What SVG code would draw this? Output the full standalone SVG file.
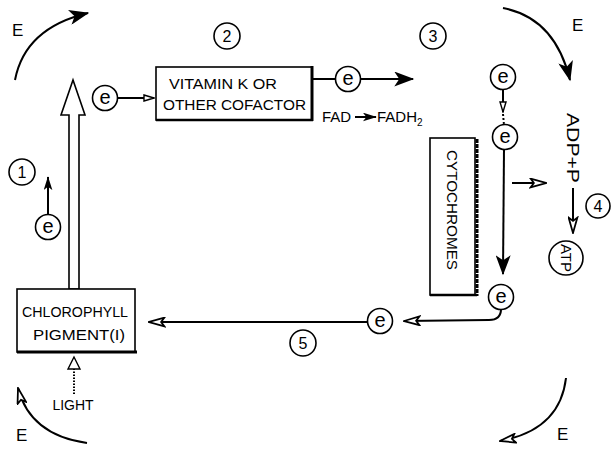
<svg xmlns="http://www.w3.org/2000/svg" width="611" height="450" viewBox="0 0 611 450">
<style>
.t{font-family:"Liberation Sans",Arial,sans-serif;fill:#000}
.box{fill:#fff;stroke:#000;stroke-width:1.6}
.cir{fill:#fff;stroke:#000;stroke-width:1.6}
.ln{fill:none;stroke:#000;stroke-width:2}
.e{font-family:"Liberation Sans",Arial,sans-serif;font-size:20px;text-anchor:middle}
.n{font-family:"Liberation Sans",Arial,sans-serif;font-size:16px;text-anchor:middle}
.E{font-family:"Liberation Sans",Arial,sans-serif;font-size:17px}
</style>
<defs>
<marker id="fh" viewBox="0 0 16 10" refX="15" refY="5" markerWidth="14" markerHeight="9" markerUnits="userSpaceOnUse" orient="auto">
<path d="M0,0 L16,5 L0,10 L4,5 z" fill="#000"/>
</marker>
<marker id="fhb" viewBox="0 0 16 12" refX="15" refY="6" markerWidth="21" markerHeight="15" markerUnits="userSpaceOnUse" orient="auto">
<path d="M0,0 L16,6 L0,12 L4,6 z" fill="#000"/>
</marker>
<marker id="hh" viewBox="0 0 16 10" refX="15" refY="5" markerWidth="18" markerHeight="11" markerUnits="userSpaceOnUse" orient="auto">
<path d="M1,1 L15,5 L1,9 L4,5 z" fill="#fff" stroke="#000" stroke-width="1.6"/>
</marker>
<marker id="hs" viewBox="0 0 12 8" refX="11" refY="4" markerWidth="12" markerHeight="8" markerUnits="userSpaceOnUse" orient="auto">
<path d="M1,1 L11,4 L1,7 z" fill="#fff" stroke="#000" stroke-width="1.4"/>
</marker>
</defs>

<g id="connectors">
<!-- energy arcs -->
<path class="ln" d="M15,80 Q25,28 88,13" stroke-width="3" marker-end="url(#fhb)"/>
<path class="ln" d="M503,8 Q555,18 570,80" stroke-width="3" marker-end="url(#fhb)"/>
<path class="ln" d="M566,378 Q560,430 500,441" stroke-width="2.5" marker-end="url(#hh)"/>
<path class="ln" d="M87,443 Q30,435 18,388" stroke-width="2.5" marker-end="url(#hh)"/>
<!-- hollow double arrow from chlorophyll upward -->
<polygon points="69,289 69,115 61,115 73,80 85,115 79,115 79,289" fill="#fff" stroke="#000" stroke-width="1.6"/>
<!-- step 1 -->
<line class="ln" x1="48" y1="214" x2="48" y2="177" marker-end="url(#fh)"/>
<!-- e to vitamin box -->
<line class="ln" x1="117" y1="98" x2="154" y2="98" marker-end="url(#hs)"/>
<!-- vitamin box to e -->
<line class="ln" x1="313" y1="79" x2="336" y2="79" stroke-width="2.5"/>
<line class="ln" x1="360" y1="79" x2="413" y2="79" stroke-width="2.5" marker-end="url(#fhb)"/>
<!-- FAD -> FADH2 -->
<line class="ln" x1="355" y1="117" x2="376" y2="117" marker-end="url(#fh)"/>
<!-- e to e -->
<line class="ln" x1="503" y1="89" x2="503" y2="112" stroke-width="1.4" marker-end="url(#hs)"/>
<line class="ln" x1="503" y1="114" x2="504" y2="125" stroke-width="1.4" stroke-dasharray="2,2"/>
<!-- e down to e -->
<line class="ln" x1="504" y1="149" x2="503" y2="274" marker-end="url(#fhb)"/>
<!-- bottom e curving to left e -->
<path class="ln" d="M501,309 Q501,320 489,320 L404,321" marker-end="url(#hh)"/>
<!-- e to chlorophyll -->
<line class="ln" x1="368" y1="322" x2="149" y2="322" marker-end="url(#hh)"/>
<!-- cytochromes to ADP -->
<line class="ln" x1="512" y1="183" x2="546" y2="183" marker-end="url(#hh)"/>
<!-- ADP+P to ATP -->
<line class="ln" x1="573" y1="188" x2="573" y2="233" marker-end="url(#hh)"/>
<!-- light -->
<line class="ln" x1="74" y1="394" x2="74" y2="366" stroke-width="5" stroke-dasharray="1.5,1.5"/>
<polygon points="68,369 74,357 80,369" fill="#fff" stroke="#000" stroke-width="1.4"/>
</g>

<g id="chlorophyll">
<rect class="box" x="17" y="289" width="118" height="63"/>
<line x1="17" y1="352" x2="137" y2="352" stroke="#000" stroke-width="3"/>
<text class="t" x="75" y="317" font-size="14" text-anchor="middle" textLength="106" lengthAdjust="spacingAndGlyphs">CHLOROPHYLL</text>
<text class="t" x="79" y="340" font-size="15" text-anchor="middle" textLength="92" lengthAdjust="spacingAndGlyphs">PIGMENT(I)</text>
</g>

<g id="vitamin">
<rect class="box" x="156" y="67" width="156" height="53"/>
<line x1="312" y1="66" x2="312" y2="121" stroke="#000" stroke-width="3"/>
<line x1="156" y1="120" x2="313" y2="120" stroke="#000" stroke-width="2.5"/>
<text class="t" x="169" y="89" font-size="14" textLength="108" lengthAdjust="spacingAndGlyphs">VITAMIN K OR</text>
<text class="t" x="163" y="110" font-size="14" textLength="143" lengthAdjust="spacingAndGlyphs">OTHER COFACTOR</text>
</g>

<g id="cytochromes">
<rect class="box" x="430" y="138" width="45" height="157"/>
<line x1="477" y1="139" x2="477" y2="296" stroke="#000" stroke-width="3" stroke-dasharray="4,1"/>
<line x1="430" y1="295" x2="477" y2="295" stroke="#000" stroke-width="2.5"/>
<text class="t" x="452" y="210" font-size="15" text-anchor="middle" dominant-baseline="central" textLength="120" lengthAdjust="spacingAndGlyphs" transform="rotate(90 452 210)">CYTOCHROMES</text>
</g>

<g id="e1"><circle class="cir" cx="105" cy="98" r="12.5"/><text class="e" x="105" y="104">e</text></g>
<g id="e2"><circle class="cir" cx="348" cy="79" r="12.5"/><text class="e" x="348" y="85">e</text></g>
<g id="e3"><circle class="cir" cx="48" cy="227" r="12.5"/><text class="e" x="48" y="233">e</text></g>
<g id="e4"><circle class="cir" cx="503" cy="77" r="12.5"/><text class="e" x="503" y="83">e</text></g>
<g id="e5"><circle class="cir" cx="505" cy="137" r="12.5"/><text class="e" x="505" y="143">e</text></g>
<g id="e6"><circle class="cir" cx="501" cy="297" r="12.5"/><text class="e" x="501" y="303">e</text></g>
<g id="e7"><circle class="cir" cx="380" cy="321" r="12.5"/><text class="e" x="380" y="327">e</text></g>

<g id="fad">
<text class="t" x="322" y="122" font-size="15">FAD</text>
<text class="t" x="377" y="122" font-size="15">FADH<tspan font-size="10" dy="4">2</tspan></text>
</g>

<g id="adp">
<text class="t" x="572" y="148" font-size="16" text-anchor="middle" dominant-baseline="central" textLength="70" lengthAdjust="spacingAndGlyphs" transform="rotate(90 572 148)">ADP+P</text>
</g>

<g id="atp">
<circle class="cir" cx="566" cy="258" r="17"/>
<text class="t" x="566" y="258" font-size="15" text-anchor="middle" dominant-baseline="central" transform="rotate(90 566 258)">ATP</text>
</g>

<g id="step1"><circle class="cir" cx="22" cy="172" r="13"/><text class="n" x="22" y="178">1</text></g>
<g id="step2"><circle class="cir" cx="227" cy="36" r="13"/><text class="n" x="227" y="42">2</text></g>
<g id="step3"><circle class="cir" cx="433" cy="36" r="13"/><text class="n" x="433" y="42">3</text></g>
<g id="step4"><circle class="cir" cx="598" cy="206" r="12"/><text class="n" x="598" y="212">4</text></g>
<g id="step5"><circle class="cir" cx="303" cy="343" r="13"/><text class="n" x="303" y="349">5</text></g>

<g id="energy">
<text class="E" x="12" y="36">E</text>
<text class="E" x="572" y="31">E</text>
<text class="E" x="557" y="440">E</text>
<text class="E" x="16" y="441">E</text>
</g>

<g id="light">
<text class="t" x="73" y="410" font-size="14" text-anchor="middle">LIGHT</text>
</g>
</svg>
